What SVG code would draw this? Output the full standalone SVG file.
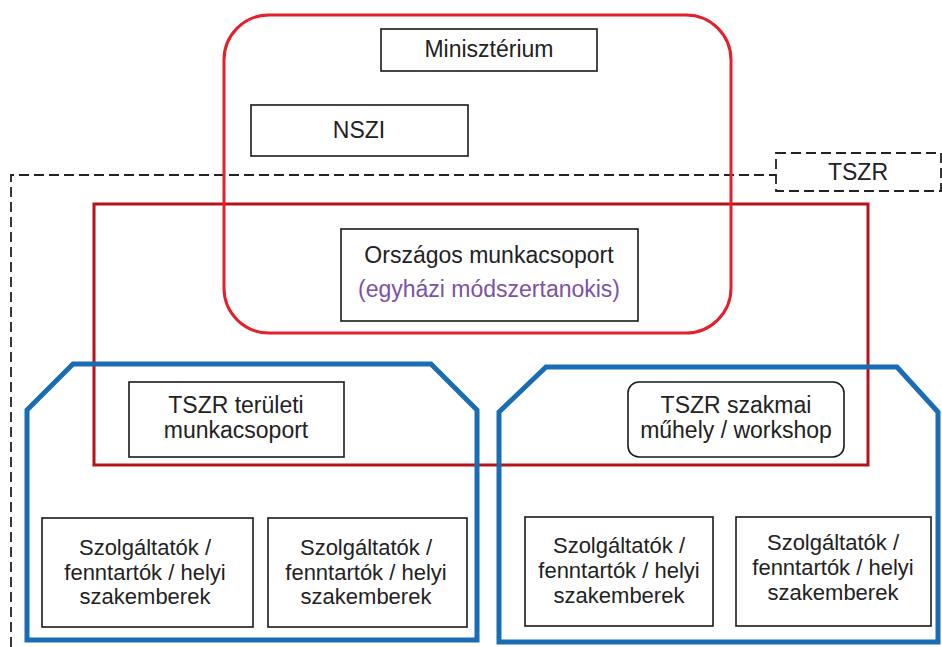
<svg xmlns="http://www.w3.org/2000/svg" width="942" height="647" viewBox="0 0 942 647">
<style>
.t{font-family:"Liberation Sans",Arial,sans-serif;font-size:23px;fill:#222;text-anchor:middle}
.s{font-size:22px}
.p{fill:#7b52a6}
.box{fill:#fff;stroke:#1a1a1a;stroke-width:1.6}
.dash{fill:none;stroke:#222;stroke-width:1.8;stroke-dasharray:10 5}
.red{fill:none;stroke:#e3202b;stroke-width:3}
.dred{fill:none;stroke:#b5121b;stroke-width:3}
.blue{fill:none;stroke:#1a6db5;stroke-width:5;stroke-linejoin:miter}
</style>
<rect width="942" height="647" fill="#fff"/>
<g id="tszr-boundary">
<path class="dash" d="M11,647 V175 H776"/>
</g>
<g id="tszr-label">
<rect x="776" y="153" width="165" height="38" fill="#fff" class="dash"/>
<text class="t" x="858" y="180">TSZR</text>
</g>
<g id="orszagos-frame">
<rect class="dred" x="94" y="204" width="774" height="261"/>
</g>
<g id="ministry-frame">
<rect class="red" x="224" y="15" width="507" height="318" rx="45" ry="45"/>
</g>
<g id="region-left">
<path class="blue" d="M27,640 V410 L73,364 H431 L477,410 V640 Z"/>
</g>
<g id="region-right">
<path class="blue" d="M499,642 V412 L546,367 H897 L938,412 V642 Z"/>
</g>
<g id="minisztérium">
<rect class="box" x="381" y="29" width="216" height="42"/>
<text class="t" x="489" y="57">Minisztérium</text>
</g>
<g id="nszi">
<rect class="box" x="251" y="105" width="217" height="51"/>
<text class="t" x="359" y="138">NSZI</text>
</g>
<g id="orszagos-munkacsoport">
<rect class="box" x="341" y="229" width="297" height="92"/>
<text class="t" x="489" y="263">Országos munkacsoport</text>
<text class="t p" x="489" y="297">(egyházi módszertanokis)</text>
</g>
<g id="tszr-teruleti">
<rect class="box" x="129" y="382" width="215" height="75"/>
<text class="t" x="236" y="413">TSZR területi</text>
<text class="t" x="236" y="438">munkacsoport</text>
</g>
<g id="tszr-szakmai">
<rect class="box" x="628" y="382" width="216" height="75" rx="11" ry="11"/>
<text class="t" x="736" y="413">TSZR szakmai</text>
<text class="t" x="736" y="438">műhely / workshop</text>
</g>
<g id="szolgaltatok-1">
<rect class="box" x="42" y="518" width="211" height="109"/>
<text class="t s" x="145" y="555">Szolgáltatók /</text>
<text class="t s" x="145" y="580">fenntartók / helyi</text>
<text class="t s" x="145" y="604">szakemberek</text>
</g>
<g id="szolgaltatok-2">
<rect class="box" x="268" y="518" width="199" height="109"/>
<text class="t s" x="366" y="555">Szolgáltatók /</text>
<text class="t s" x="366" y="580">fenntartók / helyi</text>
<text class="t s" x="366" y="604">szakemberek</text>
</g>
<g id="szolgaltatok-3">
<rect class="box" x="525" y="517" width="188" height="109"/>
<text class="t s" x="619" y="553">Szolgáltatók /</text>
<text class="t s" x="619" y="578">fenntartók / helyi</text>
<text class="t s" x="619" y="603">szakemberek</text>
</g>
<g id="szolgaltatok-4">
<rect class="box" x="736" y="517" width="195" height="109"/>
<text class="t s" x="833" y="550">Szolgáltatók /</text>
<text class="t s" x="833" y="575">fenntartók / helyi</text>
<text class="t s" x="833" y="600">szakemberek</text>
</g>
<g id="connectors"></g>
</svg>
